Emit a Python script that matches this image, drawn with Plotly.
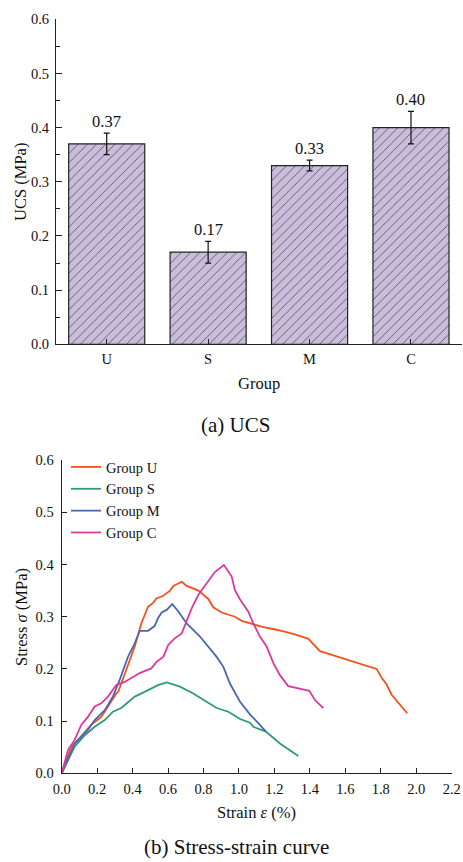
import plotly.graph_objects as go

# ---------------- data ----------------
groups = ["U", "S", "M", "C"]
ucs = [0.37, 0.17, 0.33, 0.40]
ucs_err = [0.02, 0.02, 0.01, 0.03]
ucs_labels = ["0.37", "0.17", "0.33", "0.40"]

strain_U = [0, 0.054, 0.092, 0.167, 0.223, 0.28, 0.308, 0.32, 0.355, 0.412, 0.449, 0.487, 0.517, 0.534, 0.573,
            0.611, 0.63, 0.677, 0.705, 0.771, 0.827, 0.855, 0.902, 0.977, 1.015, 1.08, 1.137, 1.212, 1.306,
            1.38, 1.39, 1.457, 1.532, 1.645, 1.72, 1.776, 1.805, 1.833, 1.86, 1.898, 1.949]
stress_U = [0, 0.051, 0.064, 0.093, 0.108, 0.14, 0.153, 0.157, 0.19, 0.243, 0.287, 0.319, 0.327, 0.335, 0.34,
            0.35, 0.359, 0.367, 0.359, 0.35, 0.334, 0.318, 0.308, 0.3, 0.292, 0.286, 0.28, 0.275, 0.267,
            0.259, 0.258, 0.234, 0.226, 0.213, 0.206, 0.2, 0.183, 0.17, 0.151, 0.135, 0.115]

strain_S = [0, 0.073, 0.13, 0.186, 0.243, 0.289, 0.336, 0.412, 0.468, 0.543, 0.592, 0.667, 0.742, 0.818,
            0.874, 0.94, 1.006, 1.062, 1.081, 1.152, 1.231, 1.335]
stress_S = [0, 0.051, 0.073, 0.089, 0.102, 0.118, 0.125, 0.147, 0.156, 0.169, 0.174, 0.166, 0.153, 0.137,
            0.125, 0.118, 0.104, 0.097, 0.089, 0.08, 0.057, 0.033]

strain_M = [0, 0.073, 0.148, 0.186, 0.243, 0.289, 0.327, 0.374, 0.412, 0.44, 0.487, 0.524, 0.543, 0.564,
            0.592, 0.624, 0.658, 0.705, 0.78, 0.827, 0.874, 0.912, 0.949, 1.006, 1.062, 1.109, 1.152]
stress_M = [0, 0.057, 0.083, 0.102, 0.121, 0.147, 0.179, 0.223, 0.249, 0.273, 0.273, 0.282, 0.297, 0.308,
            0.313, 0.324, 0.31, 0.287, 0.262, 0.243, 0.223, 0.204, 0.172, 0.137, 0.113, 0.096, 0.08]

strain_C = [0, 0.036, 0.073, 0.111, 0.148, 0.186, 0.223, 0.261, 0.308, 0.355, 0.44, 0.505, 0.536, 0.573,
            0.601, 0.639, 0.677, 0.705, 0.733, 0.771, 0.818, 0.865, 0.915, 0.959, 0.977, 1.006, 1.052,
            1.081, 1.118, 1.156, 1.194, 1.231, 1.278, 1.397, 1.429, 1.476]
stress_C = [0, 0.045, 0.064, 0.093, 0.108, 0.128, 0.134, 0.147, 0.169, 0.175, 0.192, 0.201, 0.214, 0.223,
            0.246, 0.259, 0.268, 0.294, 0.316, 0.342, 0.364, 0.386, 0.399, 0.377, 0.351, 0.333, 0.31,
            0.287, 0.262, 0.243, 0.211, 0.188, 0.167, 0.158, 0.14, 0.125]

curve_names = ["Group U", "Group S", "Group M", "Group C"]
curve_colors = ["#F4511E", "#2F9A78", "#4A68AC", "#D93A9F"]

# ---------------- figure ----------------
W, H = 463, 862
FONT = "Liberation Serif"
INK = "#111111"

fig = go.Figure()

# top: bar chart
fig.add_trace(go.Bar(
    x=groups, y=ucs, width=0.75,
    marker=dict(color="#C9BDDB", line=dict(color="#222222", width=1.2),
                pattern=dict(shape="/", fgcolor="#4a4a4a", bgcolor="#C9BDDB", size=6.5, solidity=0.12)),
    error_y=dict(type="data", array=ucs_err, color=INK, thickness=1.2, width=3),
    xaxis="x", yaxis="y", showlegend=False, hoverinfo="skip",
))
for g, v, e, lab in zip(groups, ucs, ucs_err, ucs_labels):
    fig.add_annotation(x=g, y=v + e, xref="x", yref="y", text=lab, showarrow=False,
                       xanchor="center", yanchor="bottom", yshift=0,
                       font=dict(family=FONT, size=16.5, color=INK))

# bottom: stress-strain curves
for xs, ys, nm, c in zip([strain_U, strain_S, strain_M, strain_C],
                         [stress_U, stress_S, stress_M, stress_C], curve_names, curve_colors):
    fig.add_trace(go.Scatter(x=xs, y=ys, mode="lines", name=nm,
                             line=dict(color=c, width=1.8), xaxis="x2", yaxis="y2"))

def px_x(p):
    return p / W

def px_y(p):
    return 1 - p / H

axis_common = dict(showline=True, linecolor="#222222", linewidth=1.2, ticks="inside",
                   tickcolor="#222222", tickwidth=1.2, showgrid=False, zeroline=False,
                   automargin=False,
                   tickfont=dict(family=FONT, size=14.5, color=INK))

fig.update_layout(
    template="none",
    width=W, height=H, margin=dict(l=0, r=0, t=0, b=0, pad=0, autoexpand=False),
    paper_bgcolor="white", plot_bgcolor="white",
    font=dict(family=FONT, color=INK),
    xaxis=dict(domain=[px_x(56), px_x(461.7)], anchor="y", range=[-0.5, 3.5], ticklen=5,
               ticklabelstandoff=1, **axis_common),
    yaxis=dict(domain=[px_y(344.3), px_y(19.3)], anchor="x", range=[0, 0.6], dtick=0.1,
               tickformat=".1f", ticklen=6, ticklabelstandoff=3,
               minor=dict(ticks="inside", dtick=0.05, ticklen=3.5, tickcolor="#222222", tickwidth=1.2),
               **axis_common),
    xaxis2=dict(domain=[px_x(61.7), px_x(451.7)], anchor="y2", range=[0, 2.2], dtick=0.2,
                tickformat=".1f", ticklen=5, ticklabelstandoff=2, **axis_common),
    yaxis2=dict(domain=[px_y(773.3), px_y(460.1)], anchor="x2", range=[0, 0.6], dtick=0.1,
                tickformat=".1f", ticklen=5, ticklabelstandoff=4, **axis_common),
    legend=dict(x=px_x(66), y=px_y(451), xanchor="left", yanchor="top",
                font=dict(family=FONT, size=14.5, color=INK),
                bgcolor="rgba(0,0,0,0)", tracegroupgap=0, itemwidth=30),
    showlegend=True,
)

annots = [
    dict(text="UCS (MPa)", x=px_x(21), y=px_y(182), yanchor="middle", textangle=-90, size=16.5),
    dict(text="Group", x=px_x(258.8), y=px_y(383), yanchor="middle", textangle=0, size=16.5),
    dict(text="(a) UCS", x=px_x(235), y=px_y(425), yanchor="middle", textangle=0, size=21),
    dict(text="Stress <i>σ</i> (MPa)", x=px_x(21), y=px_y(617), yanchor="middle", textangle=-90, size=16.5),
    dict(text="Strain <i>ε</i> (%)", x=px_x(256.7), y=px_y(812.7), yanchor="middle", textangle=0, size=16.5),
    dict(text="(b) Stress-strain curve", x=px_x(236), y=px_y(861), yanchor="bottom", textangle=0, size=21),
]
for a in annots:
    fig.add_annotation(text=a["text"], x=a["x"], y=a["y"], xref="paper", yref="paper",
                       xanchor="center", yanchor=a["yanchor"], showarrow=False, textangle=a["textangle"],
                       font=dict(family=FONT, size=a["size"], color=INK))

fig.write_html("out.html")
